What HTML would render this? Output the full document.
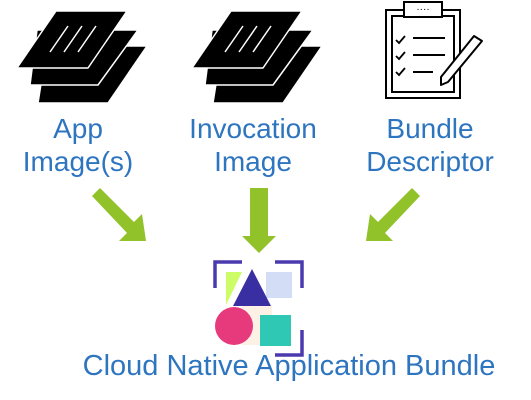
<!DOCTYPE html>
<html><head><style>
body{margin:0;width:531px;height:400px;background:#fff;overflow:hidden;position:relative;font-family:"Liberation Sans",sans-serif}
.t{position:absolute;color:#2e75c0;font-size:28px;text-align:center;line-height:33px;white-space:nowrap}
</style></head><body>
<svg width="531" height="400" style="position:absolute;left:0;top:0">
<defs>
<g id="stack">
 <path d="M47,46 L147,46 L108,103 L38,103 Z" fill="#000" stroke="#fff" stroke-width="1.5" stroke-linejoin="round"/>
 <path d="M37,30 L138,30 L98,85 L30,85 Z" fill="#000" stroke="#fff" stroke-width="1.5" stroke-linejoin="round"/>
 <path d="M56,11 L127,11 L88,68 L17,68 Z" fill="#000" stroke="#fff" stroke-width="1.5" stroke-linejoin="round"/>
 <path d="M68,26 L50,52 M82,26 L64,52 M96,26 L78,52" stroke="#fff" stroke-width="1.5"/>
</g>
</defs>
<use href="#stack" x="0" y="0"/>
<use href="#stack" x="175" y="0"/>
<rect x="386" y="10" width="74" height="88" fill="none" stroke="#000" stroke-width="2"/>
<rect x="392" y="16" width="62" height="76" fill="none" stroke="#000" stroke-width="2"/>
<rect x="404" y="2" width="38" height="15" fill="#fff" stroke="#000" stroke-width="2"/>
<text x="423" y="12" font-size="10" text-anchor="middle" fill="#000">····</text>
<path d="M396,40 l3,3 l6,-7 M396,56 l3,3 l6,-7 M396,72 l3,3 l6,-7" stroke="#000" stroke-width="1.8" fill="none"/>
<path d="M413,38 h32 M413,55 h32 M413,72 h20" stroke="#000" stroke-width="2"/>
<path d="M474,36 L482,41 L448,82 L441,85 L441,77 Z" fill="#fff" stroke="#000" stroke-width="2" stroke-linejoin="round"/>
<g fill="#92c22a">
 <path d="M92,196 L100,188 L134,222 L142,214 L146,241 L119,241 L127,233 Z"/>
 <path d="M250,188 L268,188 L268,236 L276,236 L259,253 L242,236 L250,236 Z"/>
 <path d="M420,196 L412,188 L378,222 L370,214 L366,241 L393,241 L385,233 Z"/>
</g>
<rect x="242" y="305" width="30" height="40" fill="#fdf0e4"/>
<path d="M226,272 L242,272 L226,305 Z" fill="#ccfc66"/>
<rect x="266" y="272" width="26" height="26" fill="#d4ddf6"/>
<path d="M252,269 L271,306 L233,306 Z" fill="#3a2fa2"/>
<circle cx="234" cy="326" r="19" fill="#e63a7c"/>
<rect x="260" y="315" width="31" height="31" fill="#2ec8b4"/>
<path d="M215,288 V262 H242 M275,262 H302 V288 M302,330 V355 H275" stroke="#4a3ab0" stroke-width="3.5" fill="none"/>
</svg>
<div class="t" style="left:-2px;top:112px;width:160px">App<br>Image(s)</div>
<div class="t" style="left:173px;top:112px;width:160px">Invocation<br>Image</div>
<div class="t" style="left:350px;top:112px;width:160px">Bundle<br>Descriptor</div>
<div class="t" style="left:39px;top:351px;width:500px;font-size:29px;line-height:31px">Cloud Native Application Bundle</div>
</body></html>
